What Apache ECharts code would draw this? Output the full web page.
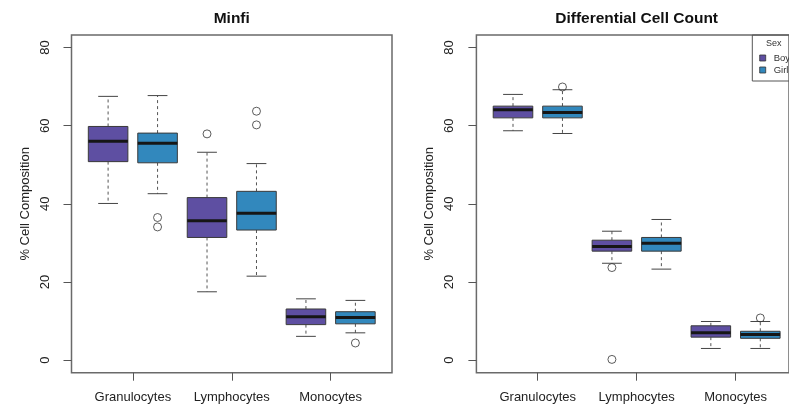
<!DOCTYPE html>
<html>
<head>
<meta charset="utf-8">
<script src="https://cdn.jsdelivr.net/npm/echarts@6/dist/echarts.min.js"></script>
<style>
  html, body { margin: 0; padding: 0; background: #fff; }
  #chart { width: 789px; height: 407px; }
</style>
</head>
<body>
<div id="chart"></div>
<script>
// categories and box slots (Boy / Girl side by side per cell type)
const cellTypes = ['Granulocytes', 'Lymphocytes', 'Monocytes'];
const slots = ['G-Boy', 'G-Girl', 'L-Boy', 'L-Girl', 'M-Boy', 'M-Girl'];

// box stats: [min, Q1, median, Q3, max]
const minfiBoy = [[40.1, 50.8, 56.0, 59.8, 67.5], [17.5, 31.4, 35.7, 41.6, 53.2], [6.1, 9.1, 11.1, 13.1, 15.7]];
const minfiGirl = [[42.6, 50.5, 55.5, 58.1, 67.7], [21.5, 33.3, 37.6, 43.2, 50.3], [7.0, 9.3, 10.9, 12.4, 15.3]];
const diffBoy = [[58.7, 62.0, 64.1, 65.0, 68.0], [24.8, 27.9, 29.1, 30.7, 33.0], [3.0, 5.9, 7.0, 8.8, 9.9]];
const diffGirl = [[58.0, 62.0, 63.4, 65.0, 69.2], [23.3, 27.9, 29.9, 31.4, 36.0], [3.0, 5.6, 6.6, 7.4, 9.9]];

// outliers per cell type
const minfiBoyOut = [[], [57.9], []];
const minfiGirlOut = [[36.5, 34.1], [63.7, 60.2], [4.4]];
const diffBoyOut = [[], [23.7, 0.2], []];
const diffGirlOut = [[69.9], [], [10.8]];

const boyColor = '#5e4fa2';
const girlColor = '#3288bd';
const font = 'Liberation Sans, Arial, Helvetica, sans-serif';

function boxData(stats, offset) {
  return stats.map((s, i) => [i * 2 + offset].concat(s));
}
function outData(outs, offset) {
  const res = [];
  outs.forEach((list, i) => list.forEach(v => res.push([i * 2 + offset, v])));
  return res;
}

function renderBox(params, api) {
  const x = api.value(0);
  const pMin = api.coord([x, api.value(1)]);
  const pQ1 = api.coord([x, api.value(2)]);
  const pMed = api.coord([x, api.value(3)]);
  const pQ3 = api.coord([x, api.value(4)]);
  const pMax = api.coord([x, api.value(5)]);
  const w = api.size([1, 0])[0] * 0.8;
  const cx = pMed[0];
  const dash = { stroke: '#555', lineWidth: 1, lineDash: [3, 3] };
  const solid = { stroke: '#444', lineWidth: 1 };
  return {
    type: 'group',
    children: [
      { type: 'line', shape: { x1: cx, y1: pQ3[1], x2: cx, y2: pMax[1] }, style: dash },
      { type: 'line', shape: { x1: cx, y1: pQ1[1], x2: cx, y2: pMin[1] }, style: dash },
      { type: 'line', shape: { x1: cx - w / 4, y1: pMax[1], x2: cx + w / 4, y2: pMax[1] }, style: solid },
      { type: 'line', shape: { x1: cx - w / 4, y1: pMin[1], x2: cx + w / 4, y2: pMin[1] }, style: solid },
      { type: 'rect', shape: { x: cx - w / 2, y: pQ3[1], width: w, height: pQ1[1] - pQ3[1] },
        style: { fill: api.visual('color'), stroke: '#3a3a3a', lineWidth: 1 } },
      { type: 'line', shape: { x1: cx - w / 2, y1: pMed[1], x2: cx + w / 2, y2: pMed[1] },
        style: { stroke: '#161616', lineWidth: 3 } }
    ]
  };
}

// panel geometry (R plot region, axis range extended by 4%)
const frameTop = 35, frameH = 337.7, frameW = 320.5;
const unitX = frameW / 6.48, unitY = frameH / 86.4;
const panels = [
  { title: 'Minfi', left: 71.5, boy: minfiBoy, girl: minfiGirl, boyOut: minfiBoyOut, girlOut: minfiGirlOut },
  { title: 'Differential Cell Count', left: 476.4, boy: diffBoy, girl: diffGirl, boyOut: diffBoyOut, girlOut: diffGirlOut }
];

const grid = [], xAxis = [], yAxis = [], series = [], title = [];
panels.forEach((p, k) => {
  const g = k * 2;
  grid.push({ left: p.left, top: frameTop, width: frameW, height: frameH, show: true,
    borderColor: '#6a6a6a', borderWidth: 1.5, backgroundColor: 'transparent' });
  grid.push({ left: p.left + 0.24 * unitX, top: frameTop + 3.2 * unitY, width: 6 * unitX, height: 80 * unitY });

  xAxis.push({ gridIndex: g, type: 'value', show: false });
  xAxis.push({ gridIndex: g + 1, type: 'category', data: slots, show: false });
  xAxis.push({
    gridIndex: g + 1, type: 'category', data: cellTypes, position: 'bottom', offset: 3.2 * unitY,
    axisLine: { show: false },
    axisTick: { show: true, alignWithLabel: true, length: 8, lineStyle: { color: '#555' } },
    axisLabel: { color: '#222', fontSize: 13, fontFamily: font, margin: 18, interval: 0 },
    splitLine: { show: false }
  });

  yAxis.push({ gridIndex: g, type: 'value', show: false, min: -3.2, max: 83.2 });
  yAxis.push({
    gridIndex: g + 1, type: 'value', min: 0, max: 80, interval: 20, offset: 0.24 * unitX,
    name: '% Cell Composition', nameLocation: 'middle', nameGap: 40,
    nameTextStyle: { color: '#222', fontSize: 13, fontFamily: font },
    axisLine: { show: false },
    axisTick: { show: true, length: 8, lineStyle: { color: '#555' } },
    axisLabel: { color: '#222', fontSize: 13, fontFamily: font, rotate: 90, margin: 20 },
    splitLine: { show: false }
  });

  const xi = k * 3 + 1, yi = k * 2 + 1;
  series.push({ name: 'Boys', type: 'custom', xAxisIndex: xi, yAxisIndex: yi,
    itemStyle: { color: boyColor }, renderItem: renderBox, data: boxData(p.boy, 0) });
  series.push({ name: 'Girls', type: 'custom', xAxisIndex: xi, yAxisIndex: yi,
    itemStyle: { color: girlColor }, renderItem: renderBox, data: boxData(p.girl, 1) });
  series.push({ type: 'scatter', xAxisIndex: xi, yAxisIndex: yi, symbol: 'circle', symbolSize: 8,
    itemStyle: { color: 'rgba(255,255,255,0)', borderColor: '#333', borderWidth: 1 },
    data: outData(p.boyOut, 0).concat(outData(p.girlOut, 1)) });

  title.push({ text: p.title, left: p.left + frameW / 2, textAlign: 'center', top: 11, padding: 0,
    textStyle: { fontSize: 15.5, fontWeight: 'bold', color: '#111', fontFamily: font } });
});

title.push({ text: 'Sex', left: 766, top: 39, padding: 0,
  textStyle: { fontSize: 9, fontWeight: 'normal', color: '#333', fontFamily: font } });

const chart = echarts.init(document.getElementById('chart'), null, { renderer: 'canvas' });
chart.setOption({
  animation: false,
  title: title,
  legend: {
    data: ['Boys', 'Girls'], orient: 'vertical', left: 752.3, top: 35,
    padding: [18, 40, 6, 7], itemGap: 2, itemWidth: 6, itemHeight: 6, icon: 'rect',
    borderColor: '#555', borderWidth: 1,
    itemStyle: { borderColor: '#333', borderWidth: 0.8 },
    textStyle: { fontSize: 9.5, lineHeight: 9, color: '#333', fontFamily: font, padding: [0, 0, 0, 3] }
  },
  grid: grid,
  xAxis: xAxis,
  yAxis: yAxis,
  series: series
});
</script>
</body>
</html>
